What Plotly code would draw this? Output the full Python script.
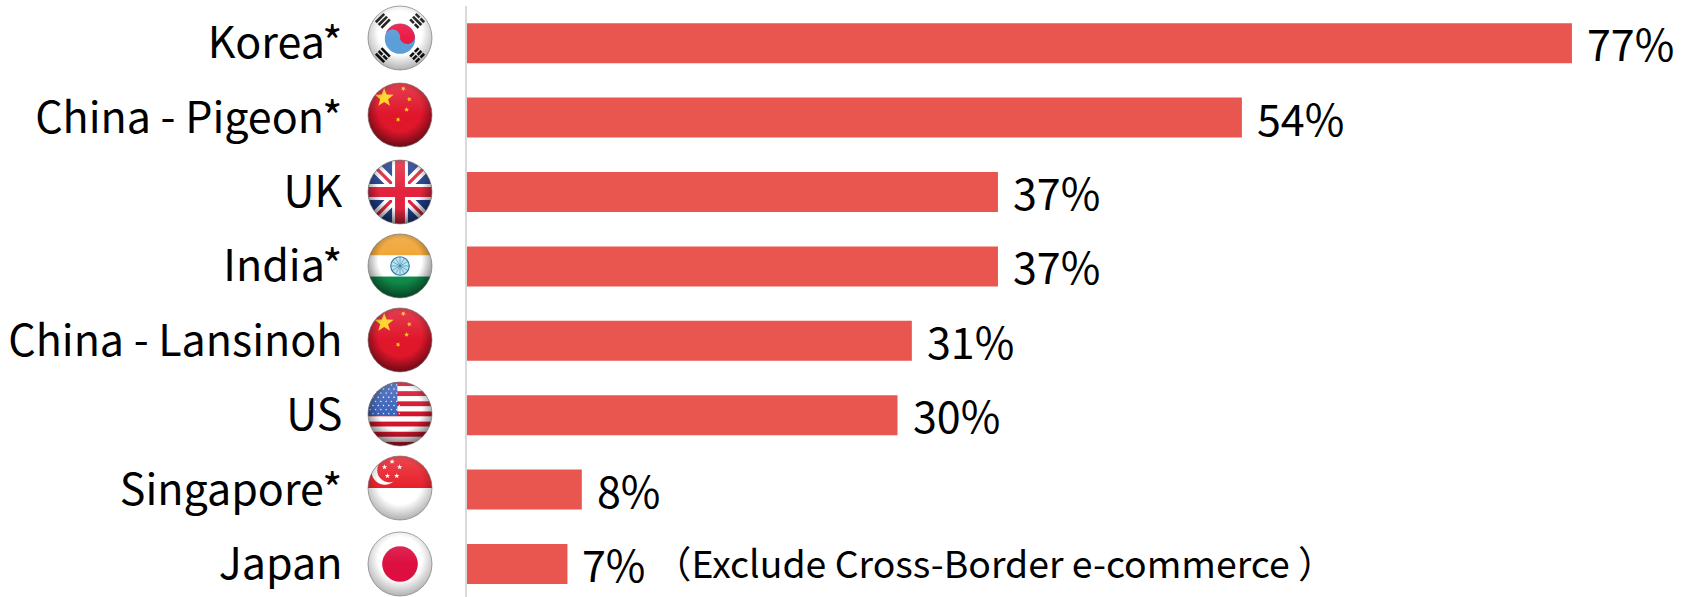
import base64
import math
import plotly.graph_objects as go

# Share values by market, top to bottom
categories = ["Korea*", "China - Pigeon*", "UK", "India*", "China - Lansinoh", "US", "Singapore*", "Japan"]
values = [77, 54, 37, 37, 31, 30, 8, 7]
flag_keys = ["kr", "cn", "uk", "in", "cn", "us", "sg", "jp"]
note_text = "（Exclude Cross-Border e-commerce ）"

BAR_COLOR = "#E95650"
FONT = "Noto Sans CJK JP"
FIG_W, FIG_H = 1685, 597
LEFT, TOP = 467, 6
PLOT_W, PLOT_H = FIG_W - LEFT, FIG_H - TOP
PX_PER_UNIT = 14.35
ROW_PX = 74.4


def star(cx, cy, r, fill, rot=-90):
    pts = []
    for i in range(10):
        rad = r if i % 2 == 0 else r * 0.42
        a = math.radians(rot + i * 36)
        pts.append(f"{cx + rad * math.cos(a):.2f},{cy + rad * math.sin(a):.2f}")
    return f'<polygon points="{" ".join(pts)}" fill="{fill}"/>'


def trigram(cx, cy, angle, breaks):
    # Three bars of a Korean trigram; breaks marks the split ones
    out = [f'<g transform="translate({cx} {cy}) rotate({angle})" fill="#111">']
    for row, broken in zip((-6, 0, 6), breaks):
        if broken:
            out.append(f'<rect x="-9" y="{row - 2}" width="8" height="4"/><rect x="1" y="{row - 2}" width="8" height="4"/>')
        else:
            out.append(f'<rect x="-9" y="{row - 2}" width="18" height="4"/>')
    out.append("</g>")
    return "".join(out)


def flag_body(key):
    if key == "kr":
        return (
            '<rect width="100" height="100" fill="#fff"/>'
            + trigram(24, 24, -45, (0, 0, 0)) + trigram(76, 24, 45, (1, 0, 1))
            + trigram(24, 76, 45, (0, 1, 0)) + trigram(76, 76, -45, (1, 1, 1))
            + '<circle cx="50" cy="51" r="23" fill="#5C9FD8"/>'
            '<path d="M27.5 46 A23 23 0 0 1 72.5 47 A11.5 11.5 0 0 1 50 51 A11.5 11.5 0 0 0 27.5 46 Z" fill="#EC1C47"/>'
        )
    if key == "cn":
        return (
            '<rect width="100" height="100" fill="#E0162B"/>'
            + star(26, 24, 15, "#FFD21E") + star(55, 10, 4, "#FFC81E", -60)
            + star(64, 26, 4, "#FFC81E", -30) + star(60, 42, 4, "#FFC81E", -90)
            + star(47, 57, 4, "#FFC81E", -60)
        )
    if key == "uk":
        return (
            '<rect width="100" height="100" fill="#22408F"/>'
            '<path d="M0 0 L100 100 M100 0 L0 100" stroke="#fff" stroke-width="16"/>'
            '<path d="M0 0 L100 100 M100 0 L0 100" stroke="#E2233D" stroke-width="5"/>'
            '<path d="M50 0 V100 M0 50 H100" stroke="#fff" stroke-width="24"/>'
            '<path d="M50 0 V100 M0 50 H100" stroke="#E2233D" stroke-width="15"/>'
        )
    if key == "in":
        spokes = "".join(
            f'<line x1="50" y1="50" x2="{50 + 13 * math.cos(math.radians(a)):.2f}" '
            f'y2="{50 + 13 * math.sin(math.radians(a)):.2f}" stroke="#2A7FA8" stroke-width="0.9"/>'
            for a in range(0, 360, 30)
        )
        return (
            '<rect width="100" height="34" fill="#F0A02C"/>'
            '<rect y="34" width="100" height="32" fill="#fff"/>'
            '<rect y="66" width="100" height="34" fill="#0F8A48"/>'
            '<circle cx="50" cy="50" r="14" fill="#BFE3EE" stroke="#2A7FA8" stroke-width="1.8"/>'
            + spokes
        )
    if key == "us":
        stripes = "".join(
            f'<rect y="{i * 100 / 13:.2f}" width="100" height="{100 / 13:.2f}" fill="{"#D3142E" if i % 2 == 0 else "#fff"}"/>'
            for i in range(13)
        )
        dots = "".join(
            star(5 + c * 8 + (4 if r % 2 else 0), 6 + r * 6.2, 1.7, "#fff")
            for r in range(8) for c in range(6)
        )
        return stripes + '<rect width="46" height="53" fill="#3C62B8"/>' + dots
    if key == "sg":
        small = "".join(
            star(38 + 12 * math.cos(math.radians(a)), 22 + 12 * math.sin(math.radians(a)), 4.2, "#fff")
            for a in (-90, -18, 54, 126, 198)
        )
        return (
            '<rect width="100" height="50" fill="#E8202A"/>'
            '<rect y="50" width="100" height="50" fill="#fff"/>'
            '<circle cx="27" cy="25" r="20" fill="#fff"/>'
            '<circle cx="34" cy="23" r="18.5" fill="#E8202A"/>'
            + small
        )
    return (
        '<rect width="100" height="100" fill="#fff"/>'
        '<circle cx="50" cy="50" r="27" fill="#DC0F40"/>'
    )


def flag_source(key):
    # A glossy round badge: flag artwork clipped to a disc with edge shading
    light = key in ("kr", "jp", "sg")
    edge = "0.35" if light else "0.6"
    svg = (
        '<svg xmlns="http://www.w3.org/2000/svg" width="200" height="200" viewBox="0 0 100 100">'
        '<defs><clipPath id="c"><circle cx="50" cy="50" r="48.5"/></clipPath>'
        '<radialGradient id="s" cx="50%" cy="42%" r="60%">'
        '<stop offset="0.55" stop-color="#000" stop-opacity="0"/>'
        f'<stop offset="1" stop-color="#000" stop-opacity="{edge}"/></radialGradient>'
        '<linearGradient id="h" x1="0" y1="0" x2="0" y2="1">'
        '<stop offset="0" stop-color="#fff" stop-opacity="0.18"/>'
        '<stop offset="0.5" stop-color="#fff" stop-opacity="0"/></linearGradient></defs>'
        f'<g clip-path="url(#c)">{flag_body(key)}'
        '<rect width="100" height="100" fill="url(#s)"/>'
        '<rect width="100" height="100" fill="url(#h)"/></g>'
        '<circle cx="50" cy="50" r="48.5" fill="none" stroke="#777" stroke-width="1"/></svg>'
    )
    return "data:image/svg+xml;base64," + base64.b64encode(svg.encode()).decode()


fig = go.Figure(
    go.Bar(
        x=values,
        y=list(range(len(categories))),
        orientation="h",
        width=40 / ROW_PX,
        marker=dict(color=BAR_COLOR, line=dict(width=0)),
        hoverinfo="skip",
    )
)

# Value labels to the right of each bar
annotations = [
    dict(
        x=v, y=i, xref="x", yref="y", text=f"{v}%", showarrow=False,
        xanchor="left", yanchor="middle", xshift=13, yshift=1,
        font=dict(family=FONT, size=43, color="#000"),
    )
    for i, v in enumerate(values)
]
annotations.append(
    dict(
        x=12.9, y=len(categories) - 1, xref="x", yref="y", text=note_text, showarrow=False,
        xanchor="left", yanchor="middle", yshift=2,
        font=dict(family=FONT, size=37.4, color="#000"),
    )
)

# Round flag badges beside the category names
FLAG_X = 400
FLAG_SIZE = 66
flag_y = [38, 115, 192, 266, 340, 414, 488, 564]
images = [
    dict(
        source=flag_source(k), xref="paper", yref="paper",
        x=(FLAG_X - LEFT) / PLOT_W, y=1 - (cy - TOP) / PLOT_H,
        sizex=FLAG_SIZE / PLOT_W, sizey=FLAG_SIZE / PLOT_H,
        xanchor="center", yanchor="middle", sizing="stretch", layer="above",
    )
    for k, cy in zip(flag_keys, flag_y)
]

fig.update_layout(
    width=FIG_W,
    height=FIG_H,
    margin=dict(l=LEFT, r=0, t=TOP, b=0, pad=0),
    paper_bgcolor="#fff",
    plot_bgcolor="#fff",
    showlegend=False,
    annotations=annotations,
    images=images,
    xaxis=dict(range=[0, PLOT_W / PX_PER_UNIT], visible=False, fixedrange=True),
    yaxis=dict(
        range=[-0.5 + PLOT_H / ROW_PX, -0.5],
        tickmode="array",
        tickvals=list(range(len(categories))),
        ticktext=categories,
        ticks="",
        ticklabelstandoff=114,
        tickfont=dict(family=FONT, size=43, color="#000"),
        showgrid=False,
        zeroline=False,
        showline=True,
        linecolor="#D9D9D9",
        linewidth=2,
        automargin=False,
        fixedrange=True,
    ),
)

fig.write_html("out.html", config={"displayModeBar": False})
